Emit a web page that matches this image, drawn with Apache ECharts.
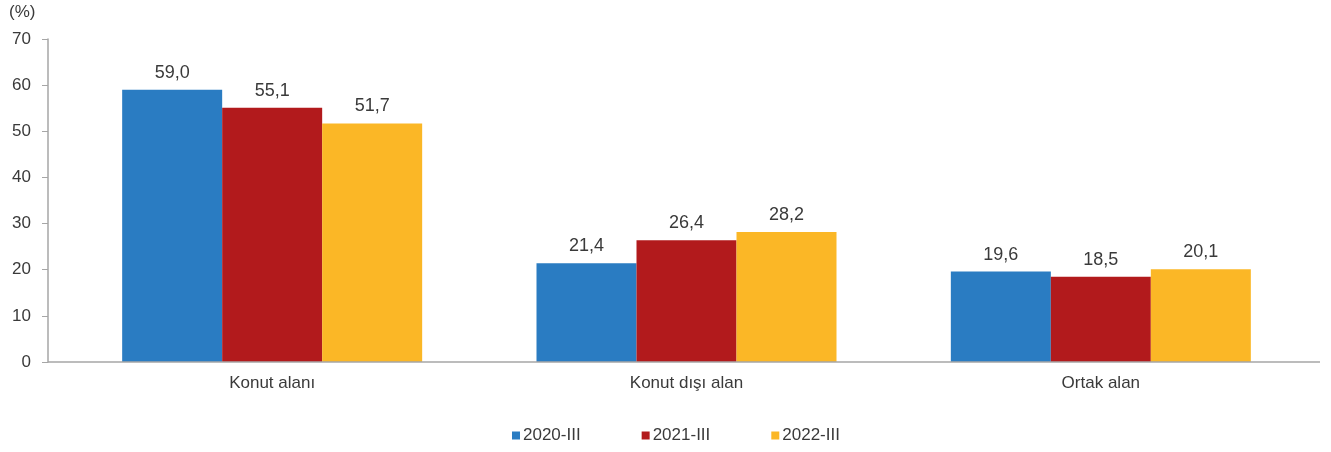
<!DOCTYPE html>
<html><head><meta charset="utf-8">
<script src="https://cdn.jsdelivr.net/npm/echarts@6/dist/echarts.min.js"></script>
<style>html,body{margin:0;padding:0;background:#fff}#c{width:1331px;height:452px}</style>
</head><body><div id="c"></div>
<script>
const categories = ["Konut alanı", "Konut dışı alan", "Ortak alan"];
const seriesNames = ["2020-III", "2021-III", "2022-III"];
const s2020 = [59.0, 21.4, 19.6];
const s2021 = [55.1, 26.4, 18.5];
const s2022 = [51.7, 28.2, 20.1];
const yTicks = [0, 10, 20, 30, 40, 50, 60, 70];

const colors = ["#2a7cc2", "#b21a1c", "#fbb726"];
const font = "Liberation Sans, Arial, sans-serif";
const txt = '#3a3a3a';
const chart = echarts.init(document.getElementById('c'));
const data = [s2020, s2021, s2022];
chart.setOption({
  animation: false,
  textStyle: {fontFamily: font},
  grid: {left: 65, right: 23, top: 39, bottom: 90, containLabel: false},
  legend: {
    top: 422, left: 507, icon: 'rect', itemWidth: 8, itemHeight: 8, itemGap: 61,
    textStyle: {fontSize: 17, color: txt, fontFamily: font, padding: [0, 0, 0, -2]},
    data: seriesNames
  },
  graphic: [
    {type: 'text', left: 9, top: 4, style: {text: '(%)', font: '17px ' + font, fill: txt}},
    {type: 'line', shape: {x1: 48, y1: 362, x2: 1320, y2: 362}, style: {stroke: '#a6a6a6', lineWidth: 1.5}, z: 10}
  ],
  xAxis: {
    type: 'category', data: categories,
    axisLine: {show: false}, axisTick: {show: false},
    axisLabel: {fontSize: 17, color: txt, margin: 13}
  },
  yAxis: {
    type: 'value', min: 0, max: 70, interval: 10, offset: 17,
    splitLine: {show: false},
    axisLine: {show: true, lineStyle: {color: '#a6a6a6', width: 1.5}},
    axisTick: {show: true, length: 6, lineStyle: {color: '#a6a6a6'}},
    axisLabel: {fontSize: 17, color: txt, margin: 17,
      formatter: v => yTicks.includes(v) ? String(v) : ''}
  },
  series: seriesNames.map((n, i) => ({
    name: n, type: 'bar', data: data[i], barWidth: 100, barGap: '0%',
    itemStyle: {color: colors[i]},
    label: {show: true, position: 'top', distance: 8, fontSize: 18, color: txt,
      formatter: p => p.value.toFixed(1).replace('.', ',')}
  }))
});
</script></body></html>
